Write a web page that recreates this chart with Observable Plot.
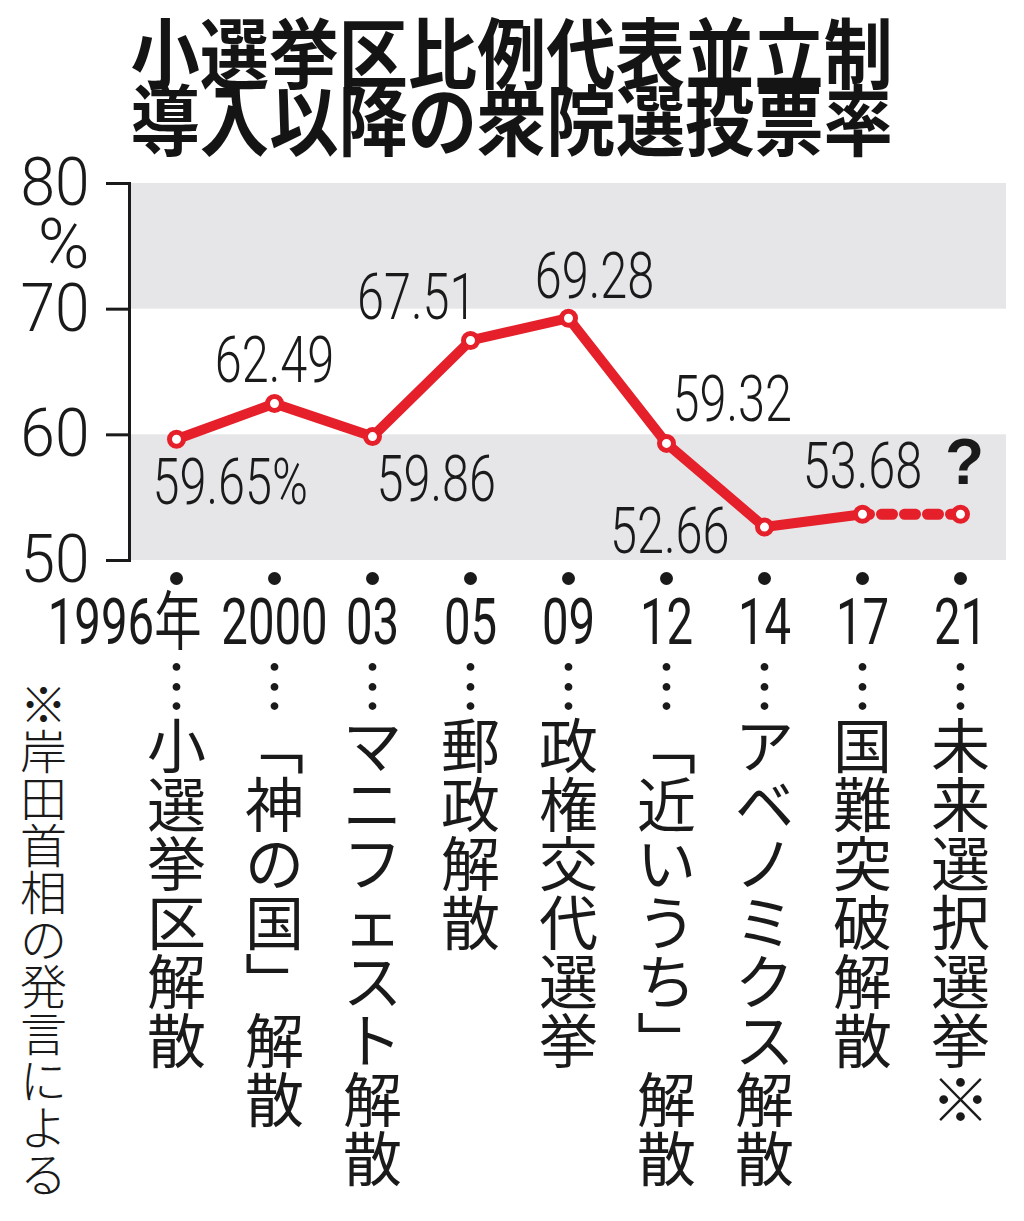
<!DOCTYPE html>
<html><head><meta charset="utf-8">
<script src="https://cdn.jsdelivr.net/npm/d3@7"></script>
<script src="https://cdn.jsdelivr.net/npm/@observablehq/plot@0.6"></script>
<style>
html,body{margin:0;padding:0;background:#fff}
body{width:1024px;height:1221px;overflow:hidden}
#title{height:165px;position:relative}
#title div{position:absolute;left:82px;width:860px;text-align:center;font-family:"Noto Sans CJK JP",sans-serif;font-weight:700;font-size:77px;line-height:67px;color:#141414;transform:scaleX(0.9);transform-origin:427px 0}
#chart svg{display:block}
</style></head><body>
<div id="title"><div style="top:16px">小選挙区比例代表並立制<br>導入以降の衆院選投票率</div></div>
<div id="chart"></div>
<script>
// ---- data ----
const years = ["1996","2000","03","05","09","12","14","17","21"];
const yearLabels = ["1996年","2000","03","05","09","12","14","17","21"];
const turnout = [59.65, 62.49, 59.86, 67.51, 69.28, 59.32, 52.66, 53.68];
const valueLabels = ["59.65%","62.49","59.86","67.51","69.28","59.32","52.66","53.68"];
const pendingYears = ["17","21"];
const pendingLevel = [53.68, 53.68];
const pendingLabel = "?";
const nicknames = ["小選挙区解散","「神の国」解散","マニフェスト解散","郵政解散","政権交代選挙","「近いうち」解散","アベノミクス解散","国難突破解散","未来選択選挙※"];
const footnote = "※岸田首相の発言による";
const yTicks = [50, 60, 70, 80];
const unitLabel = "%";
const bandLow = [50, 70];
const bandHigh = [60, 80];

// ---- styling / placement (not data) ----
const RED = "#e5202a";
const INK = "#1a1a1a";
const placement = {
  "1996": {textAnchor: "start", dx: -24, dy: 44},
  "2000": {textAnchor: "middle", dx: 0, dy: -42},
  "03":   {textAnchor: "start", dx: 4, dy: 44},
  "05":   {textAnchor: "end", dx: 6, dy: -42},
  "09":   {textAnchor: "middle", dx: 26, dy: -41},
  "12":   {textAnchor: "start", dx: 6, dy: -43},
  "14":   {textAnchor: "end", dx: -35, dy: 5},
  "17":   {textAnchor: "middle", dx: 0, dy: -47}
};
// vertical presentation forms for top-to-bottom stacking
const vForms = {"「": "﹁", "」": "﹂", "…": "︙"};
const vertical = s => Array.from(s).map(c => vForms[c] ?? c).join("\n");

const points = turnout.map((v, i) => ({year: years[i], value: v, label: valueLabels[i]}));
const pending = pendingYears.map((y, i) => ({year: y, value: pendingLevel[i]}));
const rows = years.map((y, i) => ({year: y, label: yearLabels[i], nickname: nicknames[i]}));
const bands = bandLow.map((lo, i) => ({lo, hi: bandHigh[i]}));

const numFont = 'Roboto,"Liberation Sans","Noto Sans CJK JP",sans-serif';
const jpFont = '"Noto Sans CJK JP",sans-serif';

const labelMarks = points.map(p => Plot.text([p], {
  x: "year", y: "value", text: "label",
  ...placement[p.year],
  fontSize: 64, fontWeight: 300, fill: INK, fontFamily: numFont, lineAnchor: "middle"
}));

const chart = Plot.plot({
  width: 1024,
  height: 1056,
  marginTop: 18,
  marginBottom: 661,
  marginLeft: 129,
  marginRight: 18,
  style: {fontFamily: numFont, color: INK, background: "white", overflow: "visible"},
  x: {type: "point", domain: years, padding: 0.433, axis: null},
  y: {domain: [50, 80], axis: null},
  marks: [
    Plot.rect(bands, {y1: "lo", y2: "hi", fill: "#e6e6e8"}),
    Plot.frame({anchor: "left", stroke: INK, strokeWidth: 3}),
    Plot.axisY({ticks: yTicks, tickSize: 23, tickPadding: 17, fontSize: 67, fontWeight: 300, stroke: INK, strokeWidth: 3, fill: INK, tickFormat: d => String(d)}),
    Plot.text([unitLabel], {frameAnchor: "top-left", dx: -40, dy: 62, fontSize: 70, fontWeight: 300, textAnchor: "end", lineAnchor: "middle", fill: INK}),
    Plot.line(points, {x: "year", y: "value", stroke: RED, strokeWidth: 10, strokeLinejoin: "round"}),
    Plot.line(pending, {x: "year", y: "value", stroke: RED, strokeWidth: 11, strokeDasharray: "11 12", strokeDashoffset: 4}),
    Plot.dot([...points, pending[1]], {x: "year", y: "value", r: 7, fill: "white", stroke: RED, strokeWidth: 5}),
    ...labelMarks,
    Plot.text([pending[1]], {x: "year", y: "value", text: () => pendingLabel, dx: 4, dy: -51, fontSize: 64, fontWeight: "bold", fill: INK, fontFamily: '"Liberation Sans",sans-serif'}),
    Plot.dot(rows, {x: "year", frameAnchor: "bottom", dy: 18, r: 6.5, fill: INK}),
    Plot.text(rows.slice(0, 1), {x: "year", text: "label", frameAnchor: "bottom", dy: 63, dx: 25, textAnchor: "end", lineAnchor: "middle", fontSize: 64, fontWeight: 400, fill: INK}),
    Plot.text(rows.slice(1), {x: "year", text: "label", frameAnchor: "bottom", dy: 63, lineAnchor: "middle", fontSize: 64, fontWeight: 400, fill: INK}),
    Plot.text(rows, {x: "year", text: d => vertical("…" + d.nickname), frameAnchor: "bottom", dy: 107, textAnchor: "middle", lineAnchor: "top", lineHeight: 1, fontSize: 59, fill: INK, fontFamily: jpFont}),
    Plot.text([footnote], {text: d => vertical(d), frameAnchor: "bottom-left", dx: -86, dy: 128, textAnchor: "middle", lineAnchor: "top", lineHeight: 1, fontSize: 47, fill: INK, fontFamily: jpFont, fontWeight: 300})
  ]
});

// horizontally condense the Latin-digit labels (narrow newspaper face)
const condenseFor = s => {
  if (valueLabels.includes(s)) return 0.76;
  if (yearLabels.includes(s)) return 0.74;
  if (yTicks.map(String).includes(s)) return 0.93;
  return null;
};
d3.select(chart).selectAll("text").each(function () {
  if (this.querySelector("tspan")) return;
  const k = condenseFor(this.textContent);
  if (!k) return;
  const t = this.getAttribute("transform");
  if (t) {
    this.setAttribute("transform", `${t} scale(${k},1)`);
  } else {
    const x = parseFloat(this.getAttribute("x")) || 0, y = parseFloat(this.getAttribute("y")) || 0;
    this.removeAttribute("x"); this.removeAttribute("y");
    this.setAttribute("transform", `translate(${x},${y}) scale(${k},1)`);
  }
});

document.getElementById("chart").appendChild(chart);
</script>
</body></html>
